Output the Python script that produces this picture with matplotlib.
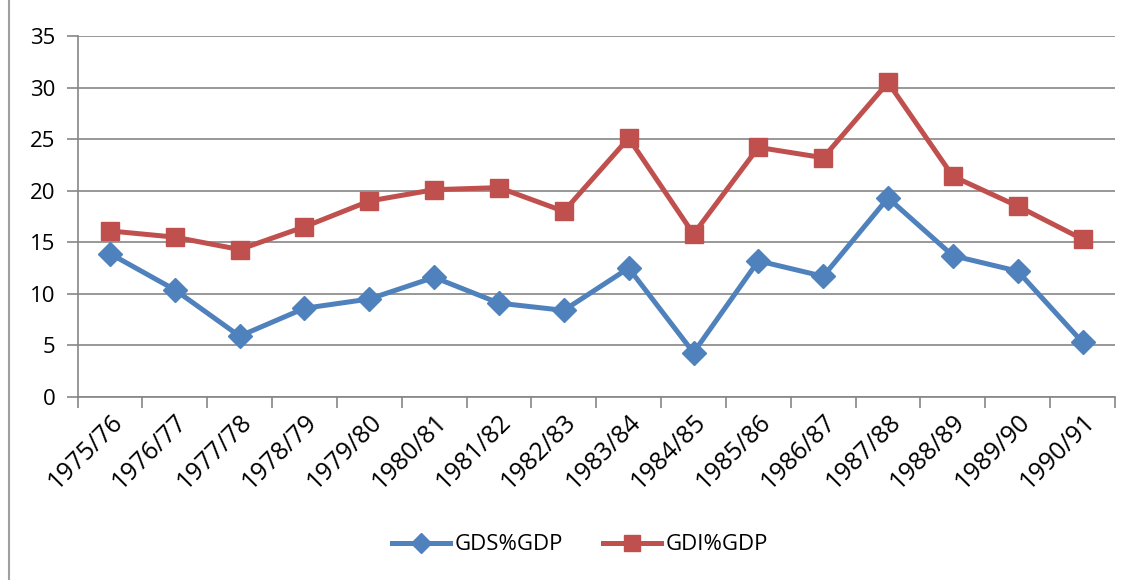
import matplotlib
matplotlib.use("Agg")
import matplotlib.pyplot as plt
from matplotlib.lines import Line2D

years = ["1975/76", "1976/77", "1977/78", "1978/79", "1979/80", "1980/81",
         "1981/82", "1982/83", "1983/84", "1984/85", "1985/86", "1986/87",
         "1987/88", "1988/89", "1989/90", "1990/91"]
gds = [13.9, 10.4, 5.9, 8.6, 9.5, 11.6, 9.1, 8.4, 12.5, 4.3, 13.2, 11.7, 19.3, 13.7, 12.2, 5.3]
gdi = [16.1, 15.5, 14.3, 16.5, 19.0, 20.1, 20.3, 18.0, 25.1, 15.8, 24.2, 23.2, 30.5, 21.4, 18.5, 15.3]

BLUE = "#4F81BD"
RED = "#C0504D"
GRID = "#868686"

plt.rcParams["font.family"] = ["Open Sans", "DejaVu Sans"]

fig = plt.figure(figsize=(11.28, 5.8), dpi=100)
ax = fig.add_axes([77.5 / 1128, 183 / 580, 1037.5 / 1128, 361 / 580])

x = list(range(len(years)))
ax.plot(x, gds, color=BLUE, lw=3.6, marker="D", ms=12, label="GDS%GDP", zorder=3)
ax.plot(x, gdi, color=RED, lw=3.6, marker="s", ms=13.5, label="GDI%GDP", zorder=3)

ax.set_xlim(-0.5, len(years) - 0.5)
ax.set_ylim(0, 35)
ax.set_yticks(range(0, 36, 5))
ax.yaxis.grid(True, color=GRID, lw=1.2)
ax.set_axisbelow(True)

# category labels centred, tick marks between categories
ax.set_xticks(x)
ax.set_xticklabels(years, rotation=45, ha="right", rotation_mode="anchor", fontsize=18)
ax.tick_params(axis="x", length=0, pad=9)
ax.set_xticks([i - 0.5 for i in range(len(years) + 1)], minor=True)
ax.tick_params(axis="x", which="minor", length=8, width=1.2, color=GRID, direction="out")
ax.tick_params(axis="y", length=8, width=1.2, color=GRID, labelsize=16, pad=8)

for s in ["top", "right"]:
    ax.spines[s].set_visible(False)
for s in ["left", "bottom"]:
    ax.spines[s].set_color(GRID)
    ax.spines[s].set_linewidth(1.2)

fig.legend(loc="center", bbox_to_anchor=(580 / 1128, 1 - 545 / 580), ncol=2,
           frameon=False, fontsize=16, handlelength=2.6, columnspacing=1.8,
           handletextpad=0.2, markerscale=0.85)

# chart area border
fig.add_artist(Line2D([8.5 / 1128, 8.5 / 1128], [0, 1], color="#A0A0A0", lw=1.5))

fig.savefig("out.png", dpi=100, facecolor="white")
